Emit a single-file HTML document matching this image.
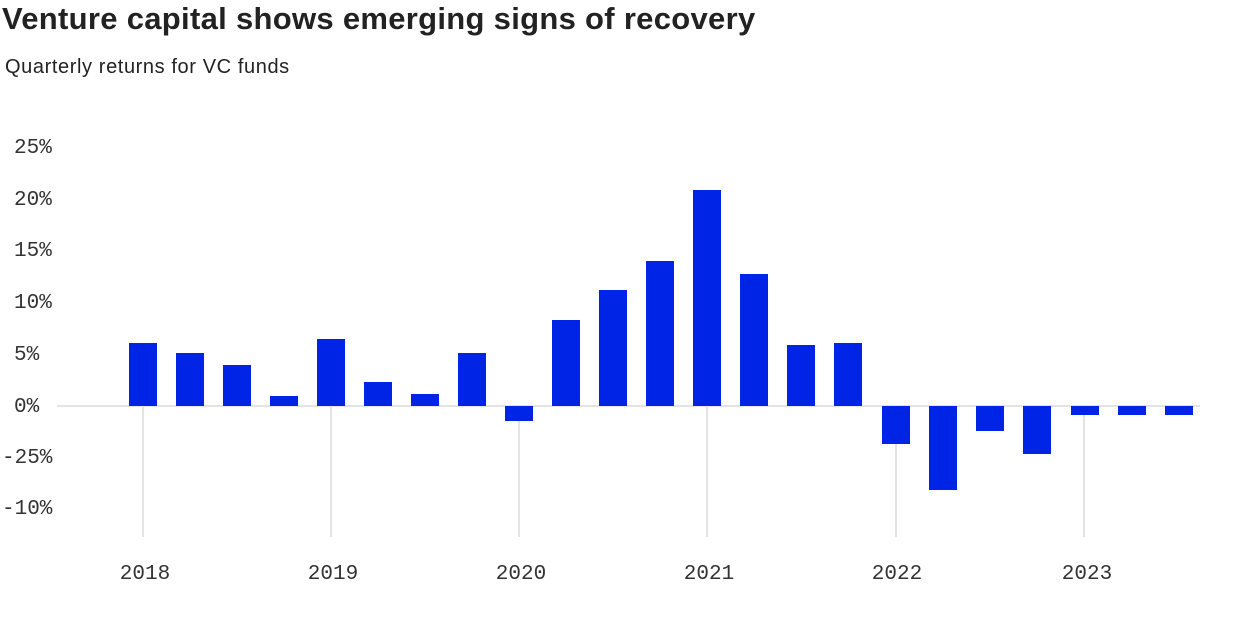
<!DOCTYPE html>
<html><head><style>
body{margin:0;background:#fff;width:1256px;height:631px;overflow:hidden;font-family:"Liberation Sans",sans-serif}
</style></head><body>
<svg width="1256" height="631" xmlns="http://www.w3.org/2000/svg">
<text x="2" y="29" font-family="Liberation Sans, sans-serif" font-size="31" font-weight="bold" fill="#222" letter-spacing="0.3">Venture capital shows emerging signs of recovery</text>
<text x="5" y="73" font-family="Liberation Sans, sans-serif" font-size="20" fill="#222" letter-spacing="0.6">Quarterly returns for VC funds</text>
<g font-family="Liberation Mono, monospace" font-size="21" fill="#333">
<text x="14" y="153">25%</text><text x="14" y="205">20%</text><text x="14" y="256">15%</text>
<text x="14" y="308">10%</text><text x="14" y="360">5%</text><text x="14" y="412">0%</text>
<text x="2" y="463">-25%</text><text x="2" y="514">-10%</text>
</g>
<line x1="57" y1="406" x2="1200" y2="406" stroke="#e3e3e3" stroke-width="2"/>
<g stroke="#e3e3e3" stroke-width="2">
<line x1="143" y1="406" x2="143" y2="537"/><line x1="331" y1="406" x2="331" y2="537"/>
<line x1="519" y1="406" x2="519" y2="537"/><line x1="707" y1="406" x2="707" y2="537"/>
<line x1="896" y1="406" x2="896" y2="537"/><line x1="1084" y1="406" x2="1084" y2="537"/>
</g>
<g fill="#0024e6">
<rect x="129" y="343" width="28" height="63"/>
<rect x="176" y="353" width="28" height="53"/>
<rect x="223" y="365" width="28" height="41"/>
<rect x="270" y="396" width="28" height="10"/>
<rect x="317" y="339" width="28" height="67"/>
<rect x="364" y="382" width="28" height="24"/>
<rect x="411" y="394" width="28" height="12"/>
<rect x="458" y="353" width="28" height="53"/>
<rect x="505" y="406" width="28" height="15"/>
<rect x="552" y="320" width="28" height="86"/>
<rect x="599" y="290" width="28" height="116"/>
<rect x="646" y="261" width="28" height="145"/>
<rect x="693" y="190" width="28" height="216"/>
<rect x="740" y="274" width="28" height="132"/>
<rect x="787" y="345" width="28" height="61"/>
<rect x="834" y="343" width="28" height="63"/>
<rect x="882" y="406" width="28" height="38"/>
<rect x="929" y="406" width="28" height="84"/>
<rect x="976" y="406" width="28" height="25"/>
<rect x="1023" y="406" width="28" height="48"/>
<rect x="1071" y="406" width="28" height="9"/>
<rect x="1118" y="406" width="28" height="9"/>
<rect x="1165" y="406" width="28" height="9"/>
</g>
<g font-family="Liberation Mono, monospace" font-size="21" fill="#333" text-anchor="middle">
<text x="145" y="579">2018</text><text x="333" y="579">2019</text><text x="521" y="579">2020</text>
<text x="709" y="579">2021</text><text x="897" y="579">2022</text><text x="1087" y="579">2023</text>
</g>
</svg>
</body></html>
